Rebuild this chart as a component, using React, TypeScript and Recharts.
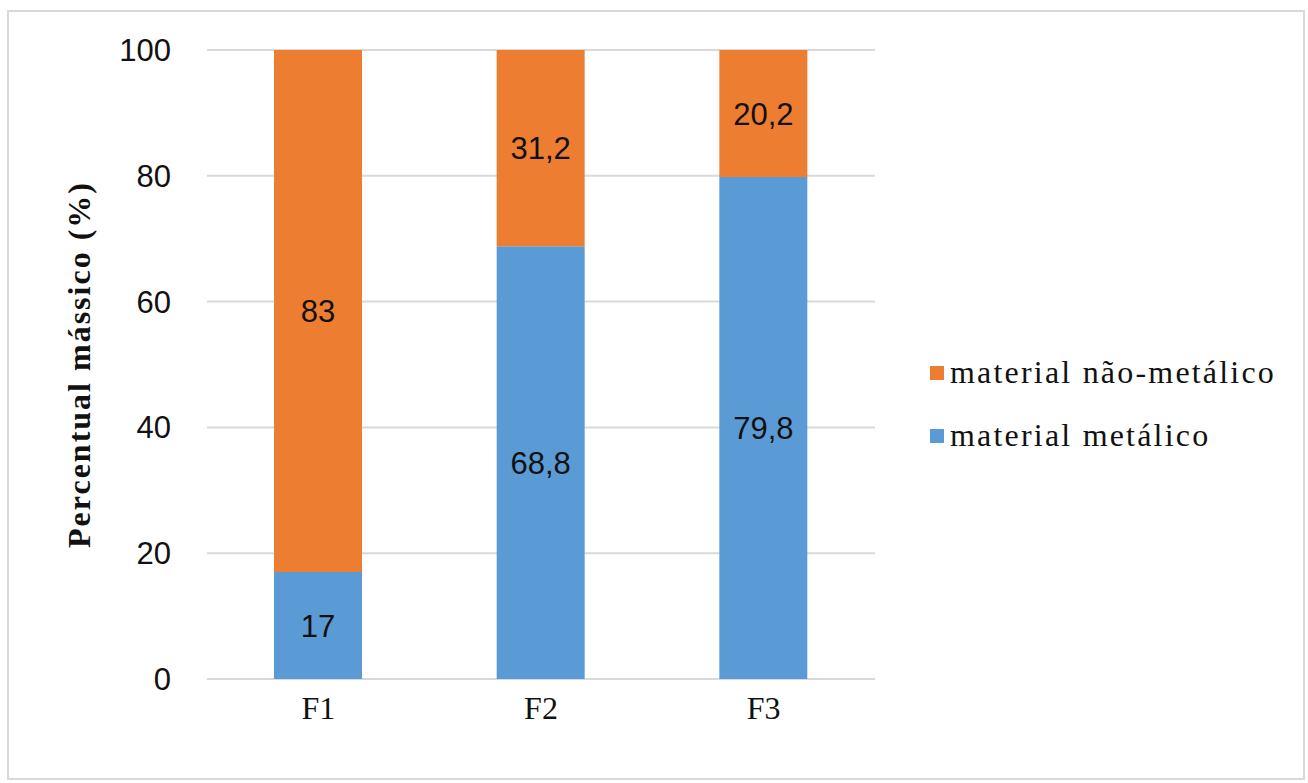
import React from 'react';
import { BarChart, Bar, XAxis, YAxis, CartesianGrid, LabelList } from 'recharts';

const categories = ['F1', 'F2', 'F3'];
const metalico = [17, 68.8, 79.8];
const naoMetalico = [83, 31.2, 20.2];
const yTicks = [0, 20, 40, 60, 80, 100];

const data = categories.map((c, i) => ({ name: c, metalico: metalico[i], naoMetalico: naoMetalico[i] }));

const ORANGE = '#ED7D31';
const BLUE = '#5B9BD5';
const SERIF = '"Liberation Serif", "Times New Roman", serif';
const SANS = '"Liberation Sans", Arial, sans-serif';

const fmt = (v: any) => String(v).replace('.', ',');

const legendItems = [
  { label: 'material não-metálico', color: ORANGE },
  { label: 'material metálico', color: BLUE },
];

export default function App() {
  return (
    <div style={{ position: 'absolute', left: 0, top: 0, width: 1308, height: 783, background: '#fff' }}>
      <div style={{ position: 'absolute', left: 7, top: 10, width: 1298, height: 770, border: '2px solid #d9d9d9', boxSizing: 'border-box' }} />
      <div style={{ position: 'absolute', left: 0, top: 0 }}>
        <BarChart
          width={1308}
          height={783}
          data={data}
          margin={{ top: 50, right: 433, bottom: 74, left: 0 }}
          barSize={88}
        >
          <CartesianGrid vertical={false} stroke="#d9d9d9" strokeWidth={2} />
          <XAxis
            dataKey="name"
            height={30}
            axisLine={false}
            tickLine={false}
            tickSize={0}
            tickMargin={17}
            tick={{ fontFamily: SERIF, fontSize: 32, fill: '#111' }}
          />
          <YAxis
            width={207}
            domain={[0, 100]}
            ticks={yTicks}
            axisLine={false}
            tickLine={false}
            tickSize={0}
            tickMargin={36}
            tick={{ fontFamily: SANS, fontSize: 31, fill: '#111' }}
            label={{
              value: 'Percentual mássico (%)',
              angle: -90,
              position: 'center',
              dx: -25,
              style: { fontFamily: SERIF, fontSize: 32, fontWeight: 'bold', fill: '#111', letterSpacing: 2 },
            }}
          />
          <Bar dataKey="metalico" stackId="a" fill={BLUE} isAnimationActive={false} name="material metálico">
            <LabelList dataKey="metalico" position="center" formatter={fmt} style={{ fontFamily: SANS, fontSize: 31, fill: '#111' }} />
          </Bar>
          <Bar dataKey="naoMetalico" stackId="a" fill={ORANGE} isAnimationActive={false} name="material não-metálico">
            <LabelList dataKey="naoMetalico" position="center" formatter={fmt} style={{ fontFamily: SANS, fontSize: 31, fill: '#111' }} />
          </Bar>
        </BarChart>
      </div>
      <div style={{ position: 'absolute', left: 930, top: 341, fontFamily: SERIF, fontSize: 32, letterSpacing: 2.2, color: '#111' }}>
        {legendItems.map((it) => (
          <div key={it.label} style={{ display: 'flex', alignItems: 'center', height: 63, whiteSpace: 'nowrap' }}>
            <span style={{ display: 'inline-block', width: 14, height: 14, background: it.color, marginRight: 6 }} />
            <span>{it.label}</span>
          </div>
        ))}
      </div>
    </div>
  );
}
